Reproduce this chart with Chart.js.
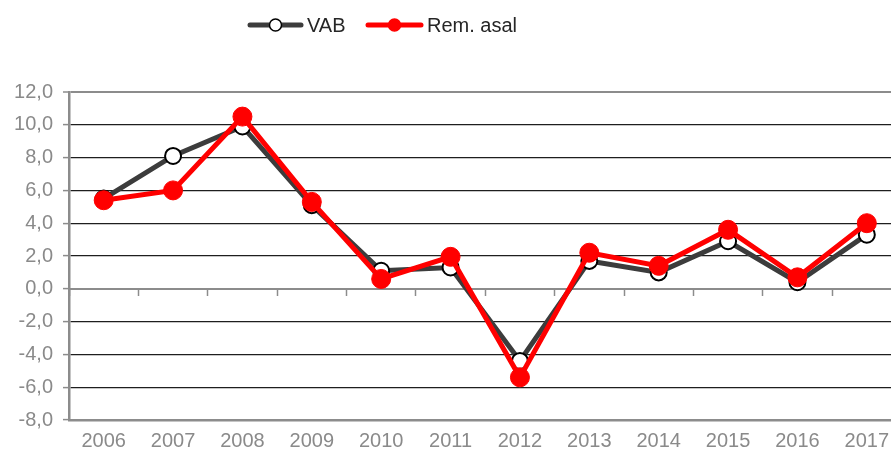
<!DOCTYPE html>
<html>
<head>
<meta charset="utf-8">
<script src="https://cdn.jsdelivr.net/npm/chart.js@4.4.1/dist/chart.umd.min.js"></script>
<style>
  html, body { margin: 0; padding: 0; background: #fff; overflow: hidden; }
  #wrap { width: 912px; height: 453px; }
</style>
</head>
<body>
<div id="wrap"><canvas id="chart" width="912" height="453"></canvas></div>
<script>
const years = ["2006", "2007", "2008", "2009", "2010", "2011", "2012", "2013", "2014", "2015", "2016", "2017"];
const vab = [5.5, 8.1, 9.9, 5.1, 1.1, 1.3, -4.4, 1.7, 1.0, 2.9, 0.4, 3.3];
const remAsal = [5.4, 6.0, 10.5, 5.3, 0.6, 1.95, -5.4, 2.2, 1.4, 3.6, 0.7, 4.0];
const yTicks = [-8, -6, -4, -2, 0, 2, 4, 6, 8, 10, 12];

const axisGray = "#8c8c8c";
const labelGray = "#8a8a8a";
const gridDark = "#1e1e1e";

function formatTick(value) {
  return value.toFixed(1).replace(".", ",");
}

// legend drawn by hand: line + marker + text, like the spreadsheet original
const lineLegend = {
  id: "lineLegend",
  afterDraw(chart) {
    const ctx = chart.ctx;
    const items = [
      { ds: chart.data.datasets[0], x: 248, w: 55, textX: 307 },
      { ds: chart.data.datasets[1], x: 366, w: 57, textX: 427 },
    ];
    const y = 25;
    ctx.save();
    items.forEach((item) => {
      const ds = item.ds;
      ctx.strokeStyle = ds.borderColor;
      ctx.lineWidth = 5;
      ctx.lineCap = "round";
      ctx.beginPath();
      ctx.moveTo(item.x + 2, y);
      ctx.lineTo(item.x + item.w - 2, y);
      ctx.stroke();
      ctx.beginPath();
      ctx.arc(item.x + item.w / 2, y, 6, 0, Math.PI * 2);
      ctx.fillStyle = ds.pointBackgroundColor;
      ctx.fill();
      ctx.lineWidth = 1.5;
      ctx.strokeStyle = ds.pointBorderColor;
      ctx.stroke();
      ctx.fillStyle = "#262626";
      ctx.font = "20px 'Liberation Sans', Arial, sans-serif";
      ctx.textBaseline = "middle";
      ctx.textAlign = "left";
      ctx.fillText(ds.label, item.textX, y + 1);
    });
    ctx.restore();
  },
};

new Chart(document.getElementById("chart"), {
  type: "line",
  data: {
    labels: years,
    datasets: [
      {
        label: "VAB",
        data: vab,
        borderColor: "#3c3c3c",
        borderWidth: 5,
        pointRadius: 8,
        pointBorderWidth: 2,
        pointBackgroundColor: "#ffffff",
        pointBorderColor: "#000000",
        tension: 0,
        order: 1,
      },
      {
        label: "Rem. asal",
        data: remAsal,
        borderColor: "#ff0000",
        borderWidth: 5,
        pointRadius: 9.5,
        pointBorderWidth: 1,
        pointBackgroundColor: "#ff0000",
        pointBorderColor: "#ff0000",
        tension: 0,
        order: 0,
      },
    ],
  },
  options: {
    responsive: false,
    animation: false,
    layout: { padding: { top: 92, right: 4, left: 0, bottom: 0 } },
    plugins: {
      legend: { display: false },
      tooltip: { enabled: false },
    },
    scales: {
      x: {
        type: "category",
        offset: true,
        position: "bottom",
        grid: { display: false, drawTicks: false },
        border: { color: axisGray, width: 2.5 },
        ticks: {
          color: labelGray,
          padding: 9,
          font: { family: "'Liberation Sans', Arial, sans-serif", size: 20 },
          maxRotation: 0,
          autoSkip: false,
        },
        afterFit: (scale) => {
          scale.height = 33;
        },
      },
      xZero: {
        type: "category",
        axis: "x",
        offset: true,
        position: { y: 0 },
        grid: {
          offset: true,
          drawOnChartArea: false,
          drawTicks: true,
          tickLength: 6,
          tickColor: axisGray,
          tickWidth: 1.5,
        },
        border: { color: axisGray, width: 2 },
        ticks: { display: false },
      },
      y: {
        min: -8,
        max: 12,
        afterBuildTicks: (scale) => {
          scale.ticks = yTicks.map((v) => ({ value: v }));
        },
        grid: {
          color: (c) => (c.tick && (c.tick.value === 0 || c.tick.value === 12 || c.tick.value === -8) ? axisGray : gridDark),
          lineWidth: (c) => (c.tick && c.tick.value === 12 ? 2 : 1.2),
          tickColor: axisGray,
          tickLength: 6,
          tickWidth: 1.5,
        },
        border: { color: axisGray, width: 2.5 },
        ticks: {
          color: labelGray,
          padding: 10,
          font: { family: "'Liberation Sans', Arial, sans-serif", size: 20 },
          callback: (value) => formatTick(value),
        },
        afterFit: (scale) => {
          scale.width = 69;
        },
      },
    },
  },
  plugins: [lineLegend],
});
</script>
</body>
</html>
